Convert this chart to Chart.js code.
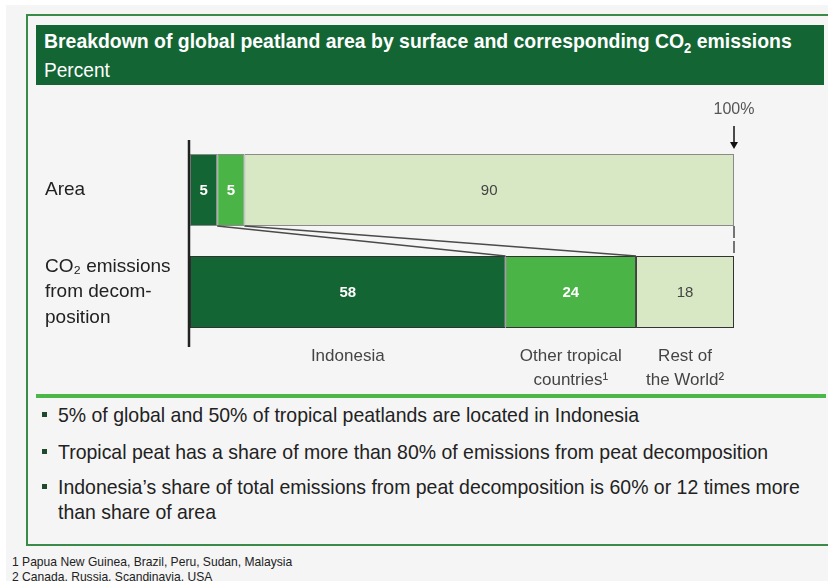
<!DOCTYPE html>
<html>
<head>
<meta charset="utf-8">
<script src="https://cdn.jsdelivr.net/npm/chart.js@4/dist/chart.umd.min.js"></script>
<style>
  html, body { margin: 0; padding: 0; background: #ffffff; }
  body { width: 828px; height: 581px; position: relative; overflow: hidden;
         font-family: "Liberation Sans", Arial, sans-serif; color: #222; }
  .sheet { position: absolute; left: 6px; top: 5px; right: 0; bottom: 0; background: #f5f5f5; }
  .frame { position: absolute; left: 26px; top: 14px; width: 820px; height: 528px; border: 2px solid #3a8a4a; }
  .titlebar { position: absolute; left: 36px; top: 25px; width: 788px; height: 60px; background: #146534; color: #fff; }
  .narrow { display: inline-block; transform-origin: 0 0; white-space: nowrap; }
  .titlebar .t1 { position: absolute; left: 8px; top: 4px; font-size: 21px; font-weight: bold; transform: scaleX(0.925); }
  .titlebar .t2 { position: absolute; left: 8px; top: 33px; font-size: 21px; transform: scaleX(0.91); }
  .titlebar sub { font-size: 14px; vertical-align: -5px; line-height: 0; }
  .rule { position: absolute; left: 36px; top: 394px; width: 790px; height: 4px; background: #4cb748; }
  .bullet { position: absolute; left: 42px; }
  .bullet .dot { position: absolute; left: 0; top: 10px; width: 5px; height: 5px; background: #1f4a2b; }
  .bullet .txt { position: absolute; left: 16px; top: 0; font-size: 21px; line-height: 25px; color: #222; transform: scaleX(0.927); }
  .foot { position: absolute; left: 12px; font-size: 13px; color: #222; transform: scaleX(0.93); }
  canvas { position: absolute; left: 0; top: 0; }
</style>
</head>
<body>
<div class="sheet"></div>
<div class="frame"></div>
<div class="titlebar">
  <div class="t1 narrow">Breakdown of global peatland area by surface and corresponding CO<sub>2</sub> emissions</div>
  <div class="t2 narrow">Percent</div>
</div>
<div class="rule"></div>
<div class="bullet" style="top:402px"><div class="dot"></div><div class="txt narrow">5% of global and 50% of tropical peatlands are located in Indonesia</div></div>
<div class="bullet" style="top:439px"><div class="dot"></div><div class="txt narrow">Tropical peat has a share of more than 80% of emissions from peat decomposition</div></div>
<div class="bullet" style="top:474px"><div class="dot"></div><div class="txt narrow">Indonesia’s share of total emissions from peat decomposition is 60% or 12 times more<br>than share of area</div></div>
<div class="foot narrow" style="top:554px">1 Papua New Guinea, Brazil, Peru, Sudan, Malaysia</div>
<div class="foot narrow" style="top:569px">2 Canada, Russia, Scandinavia, USA</div>
<canvas id="chart" width="828" height="581"></canvas>
<script>
// Row labels (y axis) and series names
const categories = [["Area"], ["CO₂ emissions", "from decom-", "position"]];
const seriesNames = [["Indonesia"], ["Other tropical", "countries¹"], ["Rest of", "the World²"]];

// Shares in percent: [area, CO2 emissions]
const indonesia = [5, 58];
const otherTropical = [5, 24];
const restOfWorld = [90, 18];

const FONT = '"Liberation Sans", Arial, sans-serif';
const fills = ['#146534', '#4bb447', '#d9e8c4'];
const labelInk = ['#ffffff', '#ffffff', '#444444'];
const labelBold = ['bold', 'bold', 'normal'];

const barLabels = {
  id: 'barLabels',
  afterDatasetsDraw(chart) {
    const ctx = chart.ctx;
    ctx.save();
    ctx.textAlign = 'center';
    ctx.textBaseline = 'middle';
    chart.data.datasets.forEach((ds, di) => {
      const meta = chart.getDatasetMeta(di);
      meta.data.forEach((el, i) => {
        ctx.fillStyle = labelInk[di];
        ctx.font = labelBold[di] + ' 15px ' + FONT;
        ctx.fillText(String(ds.data[i]), (el.x + el.base) / 2, el.y + 1);
      });
    });
    ctx.restore();
  }
};

const connectors = {
  id: 'connectors',
  afterDatasetsDraw(chart) {
    const ctx = chart.ctx;
    const area = chart.chartArea;
    ctx.save();
    // axis line on the left
    ctx.strokeStyle = '#222';
    ctx.lineWidth = 2.5;
    ctx.beginPath();
    ctx.moveTo(area.left - 1, area.top + 1);
    ctx.lineTo(area.left - 1, area.bottom + 4);
    ctx.stroke();

    // links between cumulative area shares and cumulative emission shares
    ctx.strokeStyle = '#4a4a4a';
    ctx.lineWidth = 1.5;
    [0, 1].forEach(di => {
      const meta = chart.getDatasetMeta(di);
      const a = meta.data[0], e = meta.data[1];
      ctx.beginPath();
      ctx.moveTo(a.x, a.y + a.height / 2);
      ctx.lineTo(e.x, e.y - e.height / 2);
      ctx.stroke();
    });
    const last = chart.getDatasetMeta(2);
    const a = last.data[0], e = last.data[1];
    ctx.setLineDash([12, 3]);
    ctx.beginPath();
    ctx.moveTo(a.x, a.y + a.height / 2);
    ctx.lineTo(e.x, e.y - e.height / 2);
    ctx.stroke();
    ctx.setLineDash([]);

    // 100% marker
    const xs = chart.scales.x;
    const x100 = xs.getPixelForValue(100);
    const topBar = a.y - a.height / 2;
    ctx.fillStyle = '#555';
    ctx.font = '16px ' + FONT;
    ctx.textAlign = 'center';
    ctx.textBaseline = 'middle';
    ctx.fillText('100%', x100, topBar - 44);
    ctx.strokeStyle = '#111';
    ctx.lineWidth = 1.5;
    ctx.beginPath();
    ctx.moveTo(x100, topBar - 28);
    ctx.lineTo(x100, topBar - 10);
    ctx.stroke();
    ctx.fillStyle = '#111';
    ctx.beginPath();
    ctx.moveTo(x100 - 4, topBar - 12);
    ctx.lineTo(x100 + 4, topBar - 12);
    ctx.lineTo(x100, topBar - 5);
    ctx.closePath();
    ctx.fill();

    // series names under the emissions bar
    ctx.fillStyle = '#444';
    ctx.font = '17px ' + FONT;
    chart.data.datasets.forEach((ds, di) => {
      const el = chart.getDatasetMeta(di).data[1];
      const cx = (el.x + el.base) / 2;
      const y0 = el.y + el.height / 2 + 28;
      seriesNames[di].forEach((line, k) => ctx.fillText(line, cx, y0 + k * 24));
    });
    ctx.restore();
  }
};

new Chart(document.getElementById('chart'), {
  type: 'bar',
  data: {
    labels: categories,
    datasets: [
      { label: seriesNames[0].join(' '), data: indonesia, backgroundColor: fills[0] },
      { label: seriesNames[1].join(' '), data: otherTropical, backgroundColor: fills[1] },
      { label: seriesNames[2].join(' '), data: restOfWorld, backgroundColor: fills[2] }
    ].map(d => Object.assign(d, {
      borderColor: ['#8a8a8a', '#333333'],
      borderWidth: 1,
      borderSkipped: false,
      categoryPercentage: 72 / 102,
      barPercentage: 1
    }))
  },
  options: {
    indexAxis: 'y',
    responsive: false,
    animation: false,
    events: [],
    layout: { padding: { left: 45, right: 94, top: 139, bottom: 238 } },
    plugins: { legend: { display: false }, tooltip: { enabled: false } },
    scales: {
      x: { stacked: true, min: 0, max: 100, display: false },
      y: {
        stacked: true,
        grid: { display: false },
        border: { display: false },
        ticks: { crossAlign: 'far', color: '#222', padding: 0,
                 font: { size: 19, family: FONT, lineHeight: 1.35 } },
        afterFit(scale) { scale.width = 145; }
      }
    }
  },
  plugins: [barLabels, connectors]
});
</script>
</body>
</html>
